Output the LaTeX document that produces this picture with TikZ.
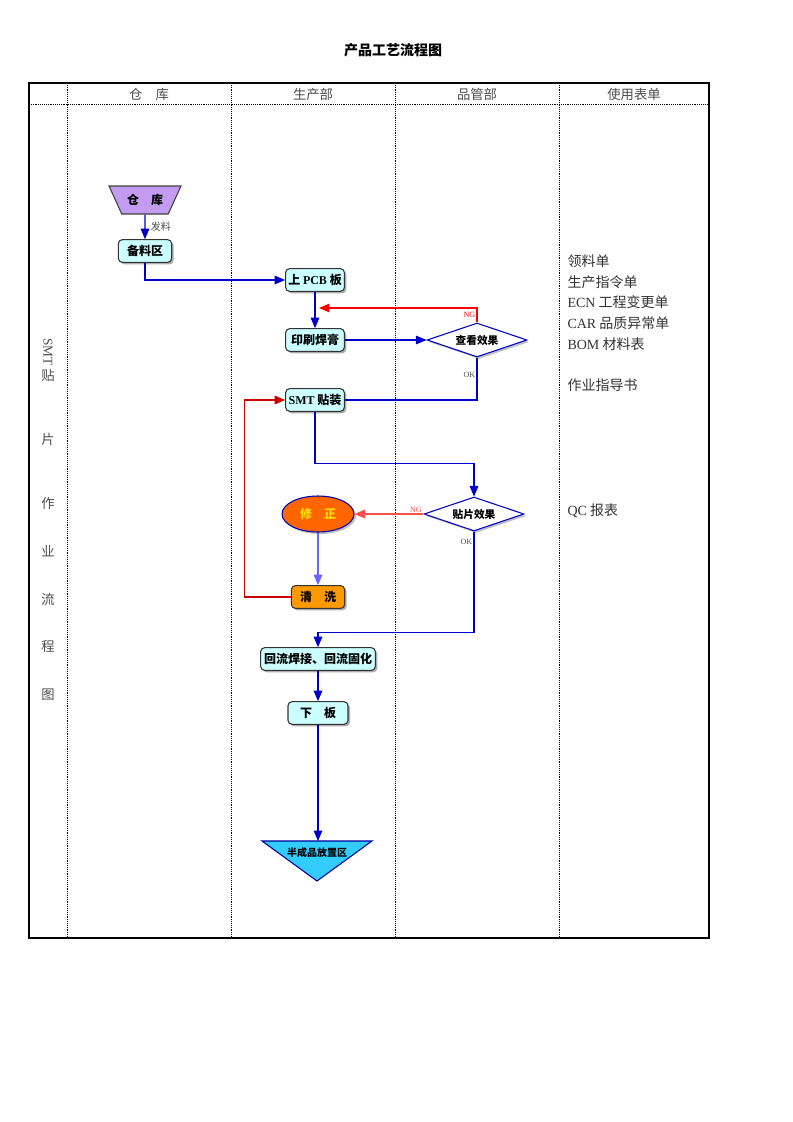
\documentclass[tikz,border=0pt]{standalone}
\usepackage{fontspec}
\setmainfont{Liberation Serif}
\newfontfamily\cjk{Noto Sans CJK SC}
\usetikzlibrary{arrows,shapes.geometric,shadows}

\definecolor{boxcyan}{HTML}{CCFFFF}
\definecolor{lilac}{HTML}{C39BF0}
\definecolor{fixorange}{HTML}{FF6600}
\definecolor{washorange}{HTML}{FF9900}
\definecolor{skyblue}{HTML}{33CCFF}
\definecolor{flowblue}{HTML}{0000CC}

\begin{document}
\begin{tikzpicture}[x=0.75pt,y=-0.75pt,>=triangle 45,thick]
\tikzset{Box/.style = {draw=black!80,fill=boxcyan,rounded corners=3pt,
                       minimum height=17pt,inner sep=2pt,
                       font=\cjk\bfseries\fontsize{9}{10}\selectfont,
                       drop shadow={shadow xshift=1.5pt,shadow yshift=-1.5pt,fill=black!65}},
         Check/.style = {diamond,aspect=3,draw=flowblue,fill=white,inner sep=0pt,
                          minimum width=75pt,minimum height=25.5pt,
                          font=\cjk\bfseries\fontsize{8}{9}\selectfont,
                          drop shadow={shadow xshift=1.5pt,shadow yshift=-1.5pt,fill=black!50}},
         Flow/.style = {->,draw=flowblue},
         NoGo/.style = {->,draw=red},
         Note/.style = {font=\fontsize{6}{7}\selectfont,inner sep=1pt},
         Head/.style = {font=\cjk\fontsize{10}{12}\selectfont,text=black!70},
         Form/.style = {font=\cjk\fontsize{10.5}{12}\selectfont,text=black!80,anchor=west,inner sep=0pt}}
\useasboundingbox (0,0) rectangle (793,1122);

\node[font=\cjk\bfseries\fontsize{10.5}{12}\selectfont] (title) at (393,50) {产品工艺流程图};

% table
\draw[line width=1.6pt] (29,83) rectangle (709,938);
\draw[densely dotted,thin] (29,104) -- (709,104);
\foreach \x in {67,231,395,559} \draw[densely dotted,thin] (\x,83) -- (\x,938);
\foreach \x/\t in {149/仓\quad 库,313/生产部,477/品管部,634/使用表单}
    \node[Head] (head\x) at (\x,94) {\t};

\node[Head,rotate=-90] (sidesmt) at (48,352) {\rmfamily SMT};
\foreach \y/\t in {375/贴,439/片,503/作,551/业,599/流,647/程,695/图}
    \node[Head] (side\y) at (48,\y) {\t};

\foreach \y/\t in {261/领料单,282/生产指令单,302/{{\rmfamily ECN} 工程变更单},
                   323/{{\rmfamily CAR} 品质异常单},344/{{\rmfamily BOM} 材料表},
                   385/作业指导书,511/{{\rmfamily QC} 报表}}
    \node[Form] (form\y) at (567,\y) {\t};

% flow
\node[trapezium,shape border rotate=180,trapezium angle=58,trapezium stretches body,
      minimum width=54pt,minimum height=21pt,draw=black!75,fill=lilac,
      font=\cjk\bfseries\fontsize{9}{10}\selectfont] (ck) at (145,200) {仓\quad 库};
\node[Box,minimum width=40pt] (bly) at (145,251) {备料区};
\node[Box,minimum width=44pt] (pcb) at (315,280) {上 {\rmfamily PCB} 板};
\node[Box,minimum width=44pt] (ysh) at (315,340) {印刷焊膏};
\node[Box,minimum width=44pt] (smt) at (315,400) {{\rmfamily SMT} 贴装};
\node[Check] (ckxg) at (477,340) {查看效果};
\node[Check] (tpxg) at (474,514) {贴片效果};
\node[ellipse,draw=blue!70!black,fill=fixorange,text=yellow!80!orange,
      minimum width=54pt,minimum height=27pt,
      font=\cjk\bfseries\fontsize{9}{10}\selectfont,
      drop shadow={shadow xshift=1.5pt,shadow yshift=-1.5pt,fill=black!50}] (xz) at (318,514) {修\quad 正};
\node[Box,fill=washorange,minimum width=40pt] (qx) at (318,597) {清\quad 洗};
\node[Box,minimum width=86pt] (hl) at (318,659) {回流焊接、回流固化};
\node[Box,minimum width=45pt] (xb) at (318,713) {下\quad 板};
\draw[draw=blue!60!black,fill=skyblue] (262,841) -- (372,841) -- (317,881) -- cycle;
\coordinate (bcp) at (318,841);
\node[font=\cjk\bfseries\fontsize{7.5}{9}\selectfont] (bcptext) at (317,853) {半成品放置区};
\coordinate (ng1) at (319,308);

\draw[Flow] (ck) -- node[right=3pt,Note,font=\cjk\fontsize{7.5}{9}\selectfont,text=black!70] {发料} (bly);
\draw[Flow] (bly) |- (pcb);
\draw[Flow] (pcb) -- (ysh);
\draw[Flow] (ysh) -- (ckxg);
\draw[NoGo] (ckxg.north) |- node[pos=0.25,left,Note,text=red] {NG} (ng1);
\draw[Flow,-] (ckxg.south) |- node[pos=0.2,left,Note,text=black!70] {OK} (smt.east);
\draw[Flow] (smt.south) -- ++(0,52) -| (tpxg.north);
\draw[NoGo,draw=red!70] (tpxg.west) -- node[pos=0,above left,Note,text=red!70] {NG} (xz.east);
\draw[Flow,draw=blue!60] (xz) -- (qx);
\draw[->,draw=red!80!black] (qx.west) -- ++(-46,0) |- (smt.west);
\draw[Flow] (tpxg.south) -- node[pos=0.1,left,Note,text=black!70] {OK} ++(0,101) -| (hl.north);
\draw[Flow] (hl) -- (xb);
\draw[Flow] (xb) -- (bcp);
\end{tikzpicture}
\end{document}
